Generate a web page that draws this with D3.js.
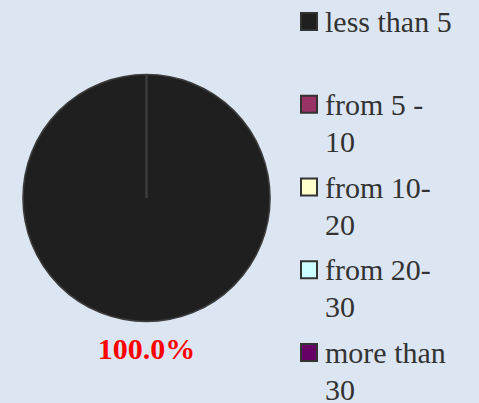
<!DOCTYPE html>
<html><head><meta charset="utf-8">
<script src="https://cdn.jsdelivr.net/npm/d3@7"></script>
</head><body style="margin:0;background:#dce6f2">
<svg id="c" width="479" height="403" style="display:block"></svg>
<script>
const categories = ["less than 5", "from 5 - 10", "from 10-20", "from 20-30", "more than 30"];
const legendLines = [["less than 5"], ["from 5 -", "10"], ["from 10-", "20"], ["from 20-", "30"], ["more than", "30"]];
const values = [100, 0, 0, 0, 0];
const colors = ["#1f1f1f", "#993366", "#ffffcc", "#ccffff", "#660066"];

const FONT = '"Liberation Serif", monospace';
const svg = d3.select("#c");
const W = 479, H = 403;
svg.append("rect").attr("width", W).attr("height", H).attr("fill", "#dce6f2");

const cx = 146.5, cy = 198, r = 123.5;
const total = d3.sum(values);
const pie = d3.pie().sort(null).value(d => d)(values);
const arc = d3.arc().innerRadius(0).outerRadius(r);
svg.selectAll("path.slice").data(pie).join("path")
  .attr("class", "slice")
  .attr("transform", `translate(${cx},${cy})`)
  .attr("d", arc)
  .attr("fill", (d, i) => colors[i])
  .attr("stroke", "#3c3c3c")
  .attr("stroke-width", 1.6);

const ly = d3.scalePoint().domain(categories).range([32, 363]);
svg.selectAll("rect.key").data(categories).join("rect")
  .attr("class", "key")
  .attr("x", 301).attr("y", d => ly(d) - 19).attr("width", 16).attr("height", 17)
  .attr("fill", (d, i) => colors[i])
  .attr("stroke", "#333").attr("stroke-width", 2);

const fmt = d3.format(".1%");
const labels = pie.filter(d => d.value > 0).map(d => ({t: fmt(d.value / total), x: cx, y: cy + r + 37, bold: true, color: "#ff0000", anchor: "middle"}));
categories.forEach((c, i) => legendLines[i].forEach((line, j) =>
  labels.push({t: line, x: 325, y: ly(c) + j * 37, bold: false, color: "#333", anchor: "start"})));

svg.selectAll("text").data(labels).join("text")
  .attr("x", d => d.x).attr("y", d => d.y)
  .attr("text-anchor", d => d.anchor)
  .attr("font-size", 30)
  .attr("font-weight", d => d.bold ? "bold" : "normal")
  .style("font-family", d => FONT)
  .attr("fill", d => d.color)
  .text(d => d.t);
</script>
</body></html>
